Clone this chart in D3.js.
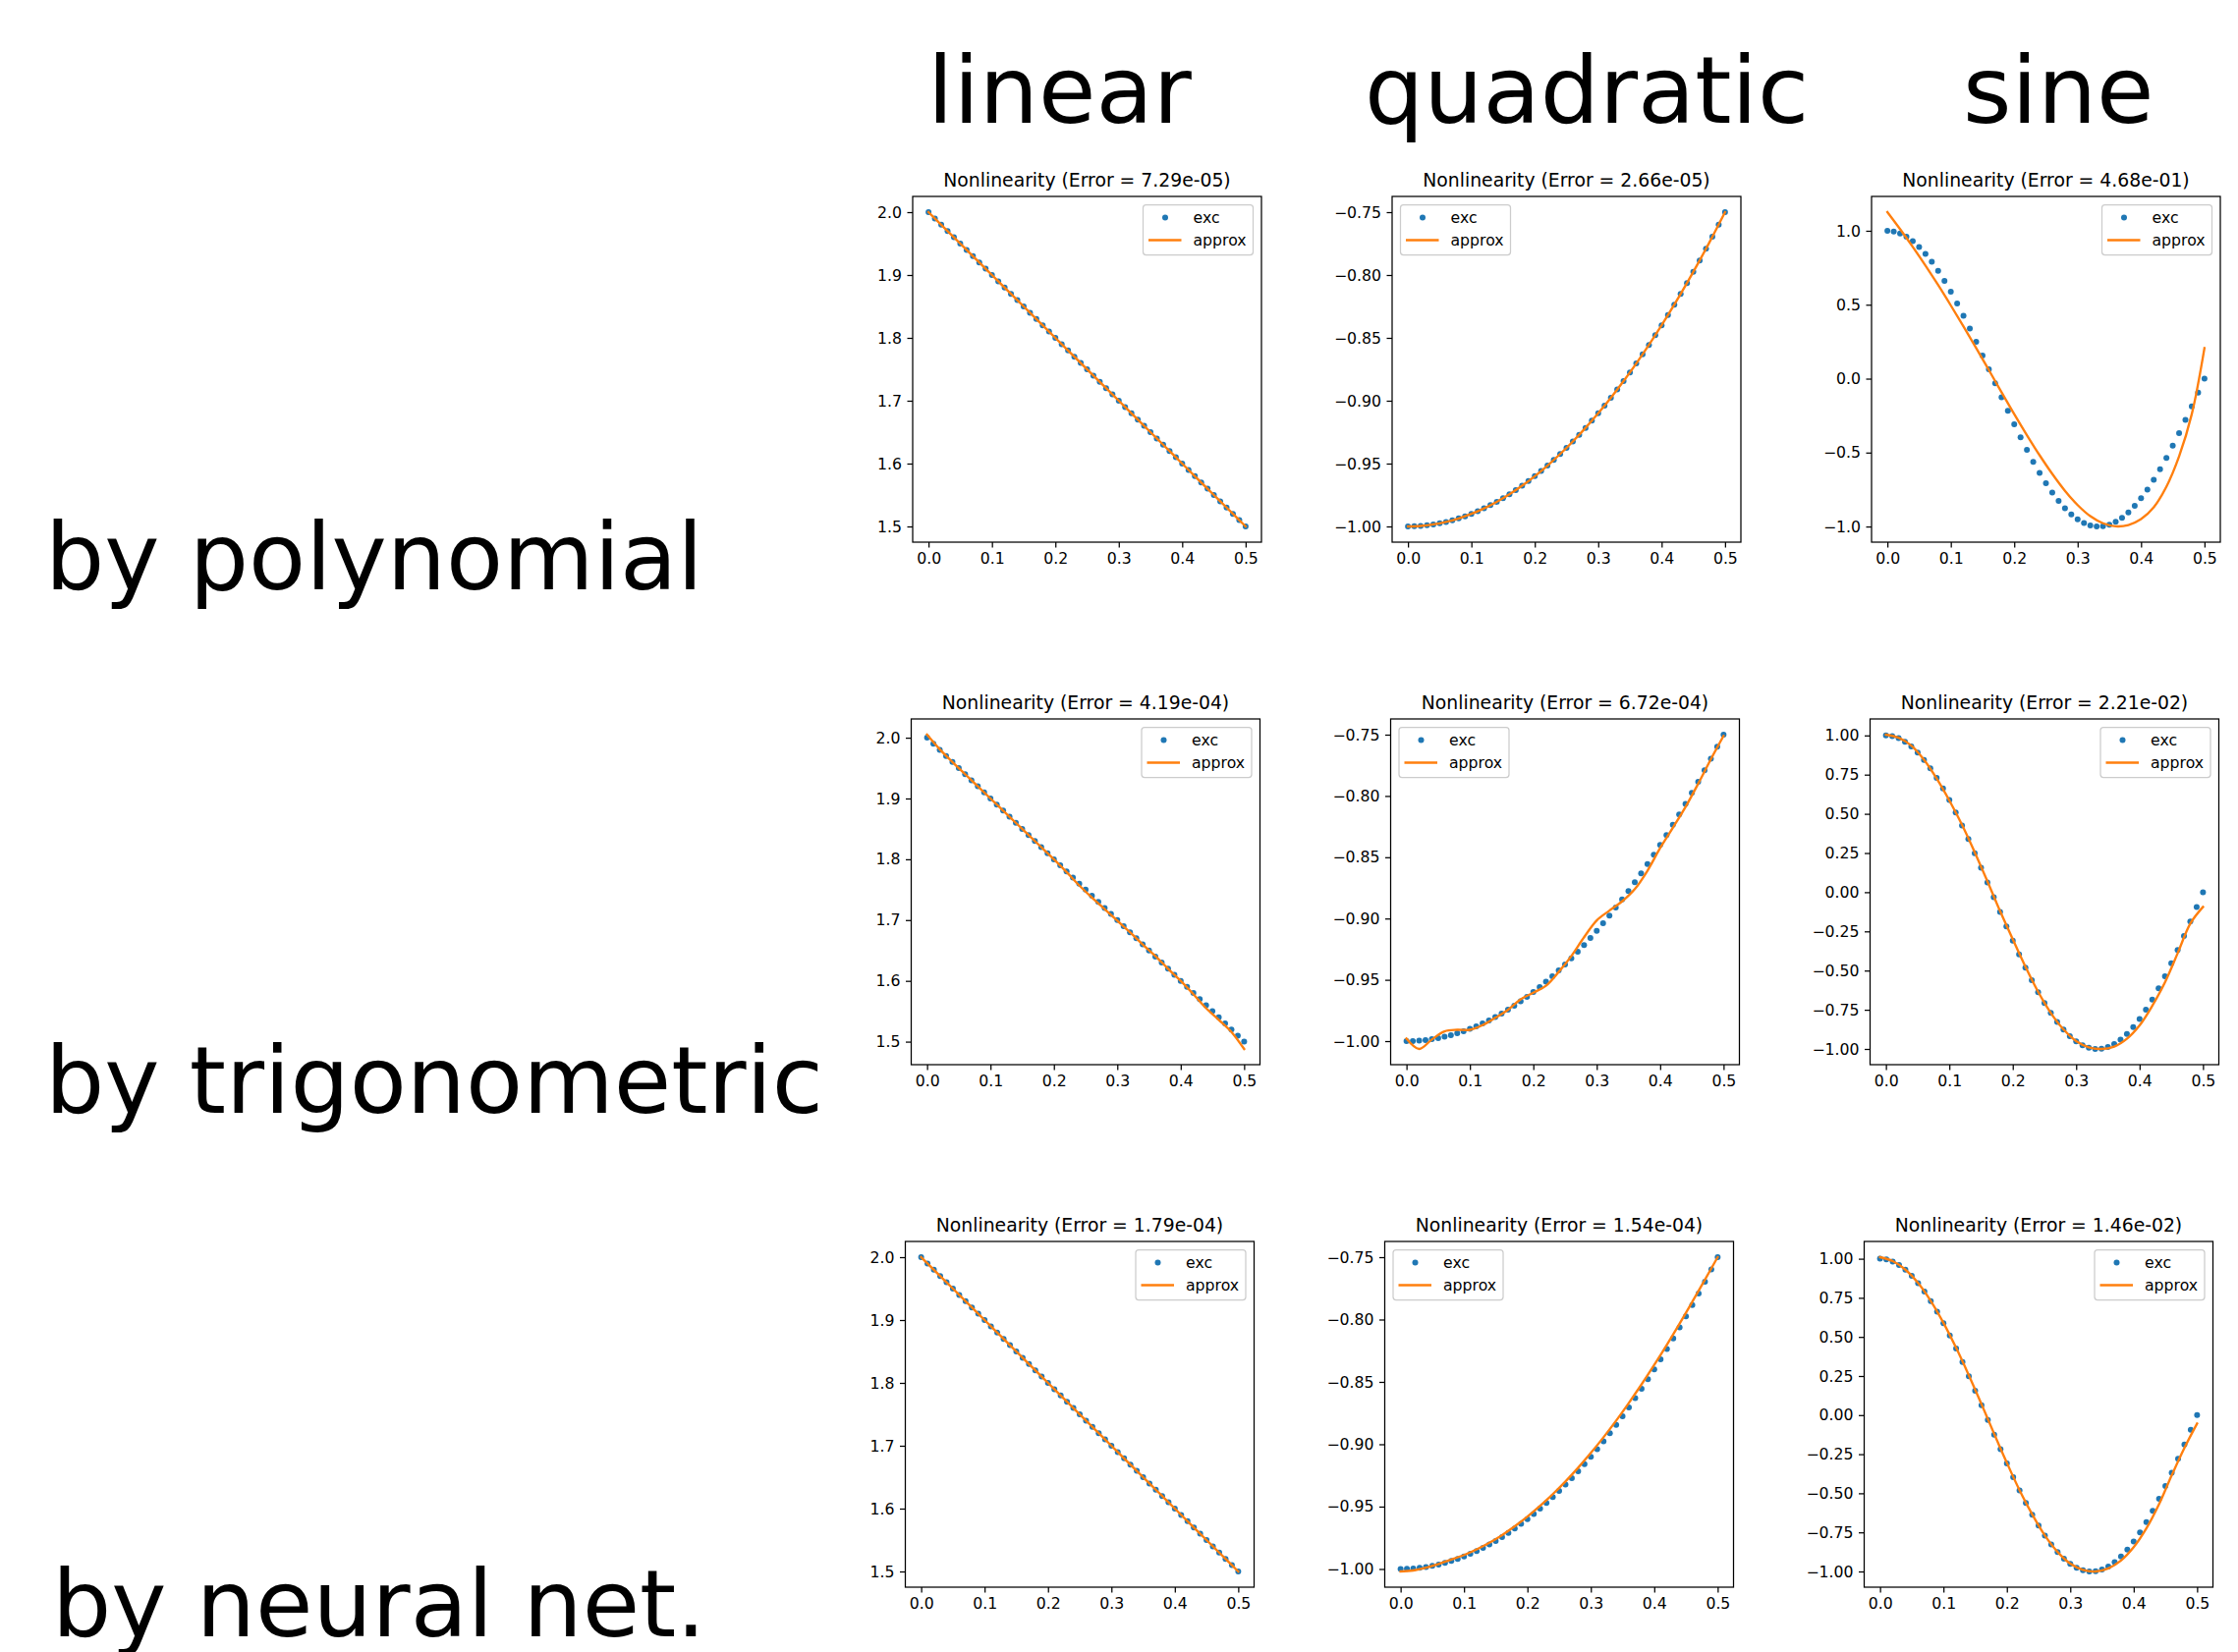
<!DOCTYPE html>
<html>
<head>
<meta charset="utf-8">
<script src="https://cdn.jsdelivr.net/npm/d3@7"></script>
<style>
  body { margin: 0; background: #fff; }
  svg { display: block; font-family: 'DejaVu Sans', sans-serif; }
</style>
</head>
<body>
<svg id="fig"></svg>
<script>
const width = 2278;
const height = 1682;

// sample points of the exact nonlinearity (blue dots)
const xs = [0.00, 0.01, 0.02, 0.03, 0.04, 0.05, 0.06, 0.07, 0.08, 0.09,
  0.10, 0.11, 0.12, 0.13, 0.14, 0.15, 0.16, 0.17, 0.18, 0.19,
  0.20, 0.21, 0.22, 0.23, 0.24, 0.25, 0.26, 0.27, 0.28, 0.29,
  0.30, 0.31, 0.32, 0.33, 0.34, 0.35, 0.36, 0.37, 0.38, 0.39,
  0.40, 0.41, 0.42, 0.43, 0.44, 0.45, 0.46, 0.47, 0.48, 0.49, 0.50];

const excLinear = [2.00, 1.99, 1.98, 1.97, 1.96, 1.95, 1.94, 1.93, 1.92, 1.91,
  1.90, 1.89, 1.88, 1.87, 1.86, 1.85, 1.84, 1.83, 1.82, 1.81,
  1.80, 1.79, 1.78, 1.77, 1.76, 1.75, 1.74, 1.73, 1.72, 1.71,
  1.70, 1.69, 1.68, 1.67, 1.66, 1.65, 1.64, 1.63, 1.62, 1.61,
  1.60, 1.59, 1.58, 1.57, 1.56, 1.55, 1.54, 1.53, 1.52, 1.51, 1.50];

const excQuadratic = [-1.0000, -0.9999, -0.9996, -0.9991, -0.9984, -0.9975, -0.9964, -0.9951, -0.9936, -0.9919,
  -0.9900, -0.9879, -0.9856, -0.9831, -0.9804, -0.9775, -0.9744, -0.9711, -0.9676, -0.9639,
  -0.9600, -0.9559, -0.9516, -0.9471, -0.9424, -0.9375, -0.9324, -0.9271, -0.9216, -0.9159,
  -0.9100, -0.9039, -0.8976, -0.8911, -0.8844, -0.8775, -0.8704, -0.8631, -0.8556, -0.8479,
  -0.8400, -0.8319, -0.8236, -0.8151, -0.8064, -0.7975, -0.7884, -0.7791, -0.7696, -0.7599, -0.7500];

const excSine = [1.0000, 0.9956, 0.9823, 0.9603, 0.9298, 0.8910, 0.8443, 0.7902, 0.7290, 0.6613,
  0.5878, 0.5090, 0.4258, 0.3387, 0.2487, 0.1564, 0.0628, -0.0314, -0.1253, -0.2181,
  -0.3090, -0.3971, -0.4818, -0.5621, -0.6374, -0.7071, -0.7705, -0.8271, -0.8763, -0.9178,
  -0.9511, -0.9759, -0.9921, -0.9995, -0.9980, -0.9877, -0.9686, -0.9409, -0.9048, -0.8607,
  -0.8090, -0.7501, -0.6845, -0.6129, -0.5358, -0.4540, -0.3681, -0.2790, -0.1874, -0.0941, 0.0000];

// approximations (orange lines), read at steps of 0.02
const approxX = [0.00, 0.02, 0.04, 0.06, 0.08, 0.10, 0.12, 0.14, 0.16, 0.18, 0.20, 0.22, 0.24,
  0.26, 0.28, 0.30, 0.32, 0.34, 0.36, 0.38, 0.40, 0.42, 0.44, 0.46, 0.48, 0.50];

const polyLinear = [2.000, 1.980, 1.960, 1.940, 1.920, 1.900, 1.880, 1.860, 1.840, 1.820, 1.800, 1.780, 1.760,
  1.740, 1.720, 1.700, 1.680, 1.660, 1.640, 1.620, 1.600, 1.580, 1.560, 1.540, 1.520, 1.500];
const polyQuadratic = [-1.0000, -0.9996, -0.9984, -0.9964, -0.9936, -0.9900, -0.9856, -0.9804, -0.9744, -0.9676, -0.9600, -0.9516, -0.9424,
  -0.9324, -0.9216, -0.9100, -0.8976, -0.8844, -0.8704, -0.8556, -0.8400, -0.8236, -0.8064, -0.7884, -0.7696, -0.7500];
const polySine = [1.126, 1.011, 0.891, 0.765, 0.633, 0.495, 0.353, 0.207, 0.058, -0.092, -0.240, -0.382, -0.518,
  -0.644, -0.758, -0.855, -0.930, -0.978, -0.999, -0.990, -0.950, -0.870, -0.730, -0.525, -0.240, 0.207];

const trigLinear = [2.005, 1.981, 1.960, 1.940, 1.920, 1.900, 1.880, 1.860, 1.840, 1.820, 1.800, 1.779, 1.757,
  1.737, 1.718, 1.699, 1.680, 1.660, 1.641, 1.620, 1.600, 1.578, 1.555, 1.536, 1.516, 1.488];
const trigQuadratic = [-0.998, -1.0064, -0.9987, -0.992, -0.9908, -0.9908, -0.987, -0.981, -0.9745, -0.966, -0.9605, -0.9548, -0.9436,
  -0.9306, -0.9153, -0.9015, -0.8935, -0.886, -0.876, -0.861, -0.8425, -0.826, -0.809, -0.790, -0.770, -0.751];
const trigSine = [1.005, 0.985, 0.935, 0.845, 0.725, 0.585, 0.430, 0.255, 0.070, -0.120, -0.300, -0.475, -0.635,
  -0.770, -0.875, -0.950, -0.990, -1.000, -0.985, -0.935, -0.850, -0.725, -0.575, -0.390, -0.200, -0.094];

const netLinear = [2.000, 1.980, 1.960, 1.940, 1.920, 1.900, 1.880, 1.860, 1.840, 1.820, 1.800, 1.780, 1.760,
  1.740, 1.720, 1.700, 1.680, 1.660, 1.640, 1.620, 1.600, 1.580, 1.560, 1.540, 1.520, 1.500];
const netQuadratic = [-1.0020, -1.0012, -0.9990, -0.9960, -0.9925, -0.9888, -0.9843, -0.9790, -0.9728, -0.9658, -0.9580, -0.9494, -0.9400,
  -0.9298, -0.9188, -0.9070, -0.8944, -0.8810, -0.8668, -0.8520, -0.8364, -0.8202, -0.8033, -0.7858, -0.7680, -0.7500];
const netSine = [1.010, 0.985, 0.930, 0.845, 0.730, 0.590, 0.430, 0.255, 0.070, -0.120, -0.305, -0.480, -0.635,
  -0.770, -0.875, -0.950, -0.990, -1.000, -0.980, -0.930, -0.845, -0.725, -0.570, -0.385, -0.210, -0.054];

const columnNames = ['linear', 'quadratic', 'sine'];
const rowNames = ['by polynomial', 'by trigonometric', 'by neural net.'];
const polyErrors = ['7.29e-05', '2.66e-05', '4.68e-01'];
const trigErrors = ['4.19e-04', '6.72e-04', '2.21e-02'];
const netErrors = ['1.79e-04', '1.54e-04', '1.46e-02'];

// tick labels
const xTicks = [0.0, 0.1, 0.2, 0.3, 0.4, 0.5];
const linearTicks = [1.5, 1.6, 1.7, 1.8, 1.9, 2.0];
const quadraticTicks = [-1.00, -0.95, -0.90, -0.85, -0.80, -0.75];
const sineTicksCoarse = [-1.0, -0.5, 0.0, 0.5, 1.0];
const sineTicksFine = [-1.00, -0.75, -0.50, -0.25, 0.00, 0.25, 0.50, 0.75, 1.00];

const exc = [excLinear, excQuadratic, excSine];
const approx = [
  [polyLinear, polyQuadratic, polySine],
  [trigLinear, trigQuadratic, trigSine],
  [netLinear, netQuadratic, netSine]
];
const errors = [polyErrors, trigErrors, netErrors];
const yTicks = [
  [linearTicks, quadraticTicks, sineTicksCoarse],
  [linearTicks, quadraticTicks, sineTicksFine],
  [linearTicks, quadraticTicks, sineTicksFine]
];
const yFormats = [
  ['.1f', '.2f', '.1f'],
  ['.1f', '.2f', '.2f'],
  ['.1f', '.2f', '.2f']
];
const legendLeft = [false, true, false];

// layout (pixels)
const colLeft = [929, 1417, 1905];
const rowTop = [200, 732, 1264];
const rowShift = [0, -1.5, -7.5];
const W = 355, H = 352;
const blue = '#1f77b4', orange = '#ff7f0e';

const svg = d3.select('#fig')
  .attr('width', width)
  .attr('height', height);

// big column / row captions
const colCaptionX = [944, 1389, 1998];
svg.selectAll('text.col')
  .data(columnNames)
  .enter()
  .append('text')
  .attr('class', 'col')
  .attr('x', (d, i) => colCaptionX[i])
  .attr('y', 125)
  .attr('font-size', 95)
  .text(d => d);

const rowCaptionX = [46, 46, 53];
const rowCaptionY = [600, 1133, 1666];
svg.selectAll('text.row')
  .data(rowNames)
  .enter()
  .append('text')
  .attr('class', 'row')
  .attr('x', (d, i) => rowCaptionX[i])
  .attr('y', (d, i) => rowCaptionY[i])
  .attr('font-size', 95)
  .text(d => d);

const x = d3.scaleLinear().domain([-0.025, 0.525]).range([0, W]);

for (let r = 0; r < 3; r++) {
  for (let c = 0; c < 3; c++) {
    const g = svg.append('g')
      .attr('transform', `translate(${colLeft[c] + rowShift[r]}, ${rowTop[r]})`);

    const ys = exc[c];
    const ya = approx[r][c];
    const ext = d3.extent(ys.concat(ya));
    const pad = (ext[1] - ext[0]) * 0.05;
    const y = d3.scaleLinear().domain([ext[0] - pad, ext[1] + pad]).range([H, 0]);

    // axes
    const yAxis = g.append('g')
      .call(d3.axisLeft(y).tickValues(yTicks[r][c]).tickFormat(d3.format(yFormats[r][c]))
        .tickSize(5.5).tickPadding(5.5));
    const xAxis = g.append('g')
      .attr('transform', `translate(0, ${H})`)
      .call(d3.axisBottom(x).tickValues(xTicks).tickFormat(d3.format('.1f'))
        .tickSize(5.5).tickPadding(5.5));
    [xAxis, yAxis].forEach(a => {
      a.select('.domain').remove();
      a.selectAll('line').attr('stroke', '#000').attr('stroke-width', 1.25);
      a.selectAll('text')
        .attr('font-family', 'DejaVu Sans')
        .attr('font-size', 15.7)
        .attr('fill', '#000');
    });

    // exact points
    g.selectAll('circle.exc')
      .data(xs)
      .enter()
      .append('circle')
      .attr('class', 'exc')
      .attr('cx', d => x(d))
      .attr('cy', (d, i) => y(ys[i]))
      .attr('r', 3)
      .attr('fill', blue);

    // approximation
    const line = d3.line()
      .x(d => x(d))
      .y((d, i) => y(ya[i]))
      .curve(d3.curveCatmullRom);
    g.append('path')
      .attr('d', line(approxX))
      .attr('fill', 'none')
      .attr('stroke', orange)
      .attr('stroke-width', 2.35)
      .attr('stroke-linecap', 'square');

    // frame
    g.append('rect')
      .attr('width', W)
      .attr('height', H)
      .attr('fill', 'none')
      .attr('stroke', '#000')
      .attr('stroke-width', 1.25);

    // title
    g.append('text')
      .attr('x', W / 2)
      .attr('y', -10)
      .attr('text-anchor', 'middle')
      .attr('font-size', 18.8)
      .text(`Nonlinearity (Error = ${errors[r][c]})`);

    // legend
    const lw = 112, lh = 51;
    const leg = g.append('g')
      .attr('transform', `translate(${legendLeft[c] ? 8.5 : W - 8.5 - lw}, 8.5)`);
    leg.append('rect')
      .attr('width', lw)
      .attr('height', lh)
      .attr('rx', 3)
      .attr('fill', '#fff')
      .attr('fill-opacity', 0.8)
      .attr('stroke', '#cccccc')
      .attr('stroke-width', 1.25);
    leg.append('circle')
      .attr('cx', 22.5)
      .attr('cy', 13)
      .attr('r', 3)
      .attr('fill', blue);
    leg.append('line')
      .attr('x1', 5.5).attr('x2', 39)
      .attr('y1', 36).attr('y2', 36)
      .attr('stroke', orange)
      .attr('stroke-width', 2.35);
    leg.selectAll('text')
      .data(['exc', 'approx'])
      .enter()
      .append('text')
      .attr('x', 51)
      .attr('y', (d, i) => 13 + i * 23)
      .attr('dy', '0.35em')
      .attr('font-size', 15.7)
      .text(d => d);
  }
}
</script>
</body>
</html>
